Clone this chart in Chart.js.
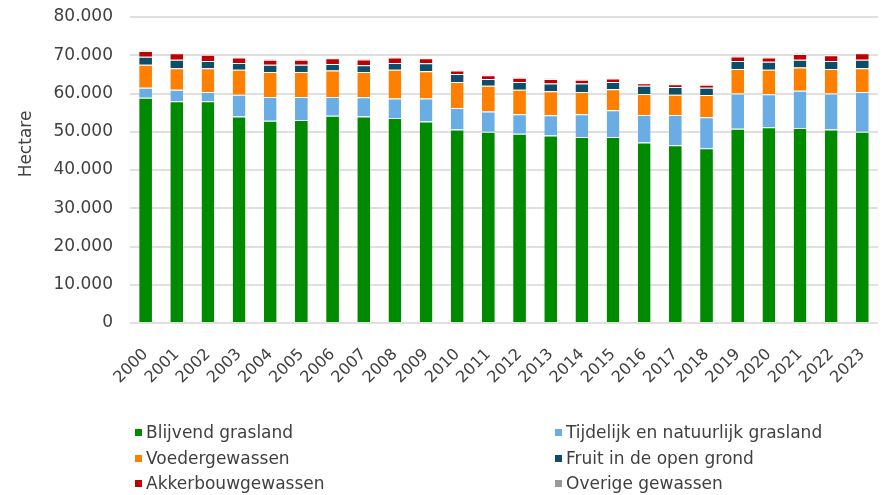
<!DOCTYPE html>
<html>
<head>
<meta charset="utf-8">
<script src="https://cdn.jsdelivr.net/npm/chart.js@4/dist/chart.umd.min.js"></script>
<style>
  html, body { margin: 0; padding: 0; background: #fff; overflow: hidden; width: 882px; height: 495px; }
  #wrap { position: absolute; left: 0; top: 0; width: 890px; height: 390px; }
  #legend { position: absolute; left: 0; top: 0; width: 882px; height: 495px; pointer-events: none;
            font-family: 'DejaVu Sans', Verdana, sans-serif; font-size: 17px; color: #404040; }
  .li { position: absolute; white-space: nowrap; line-height: 20px; }
  .sw { position: absolute; width: 7px; height: 7px; }
</style>
</head>
<body>
<div id="wrap"><canvas id="c" width="890" height="390"></canvas></div>
<div id="legend"></div>
<script>
const years = ['2000','2001','2002','2003','2004','2005','2006','2007','2008','2009','2010','2011',
               '2012','2013','2014','2015','2016','2017','2018','2019','2020','2021','2022','2023'];
const yTicks = [0, 10000, 20000, 30000, 40000, 50000, 60000, 70000, 80000];
const yTitle = 'Hectare';

const seriesNames = ['Blijvend grasland', 'Tijdelijk en natuurlijk grasland', 'Voedergewassen',
                     'Fruit in de open grond', 'Akkerbouwgewassen', 'Overige gewassen'];

const blijvendGrasland = [58900,58000,58000,54000,52900,53100,54200,54000,53600,52700,50600,50000,
                          49500,49000,48600,48600,47200,46500,45700,50800,51200,51000,50600,50000];
const tijdelijkGrasland = [2600,3000,2400,5700,6200,6000,4900,5000,5100,6000,5600,5300,
                           5100,5300,6000,7000,7200,7900,8100,9200,8600,9700,9400,10400];
const voedergewassen = [6000,5600,6200,6500,6500,6500,6900,6600,7500,7100,6800,6700,
                        6400,6300,5800,5500,5500,5300,5800,6400,6400,6100,6400,6200];
const fruitOpenGrond = [2100,2200,1900,1800,1900,1900,1700,1800,1800,2100,2100,1800,
                        2000,2000,2200,1900,2100,2000,1900,2100,2100,2000,2100,2200];
const akkerbouwgewassen = [1500,1700,1600,1400,1300,1300,1500,1500,1400,1300,900,1000,
                           1100,1200,1000,900,700,700,800,1200,1100,1500,1500,1700];
const overigeGewassen = [200,200,200,200,200,200,200,200,200,200,200,200,
                         150,150,150,150,150,150,150,200,200,200,200,200];

const seriesValues = [blijvendGrasland, tijdelijkGrasland, voedergewassen, fruitOpenGrond, akkerbouwgewassen, overigeGewassen];
const seriesColors = ['#008a00', '#6aade4', '#ff7f00', '#0c4d6a', '#c00000', '#9a9a9a'];

function fmt(v) { return String(v).replace(/\B(?=(\d{3})+(?!\d))/g, '.'); }

const FONT = "'DejaVu Sans', Verdana, sans-serif";
const TXT = '#404040';

const yTitlePlugin = {
  id: 'yTitle',
  afterDraw(chart) {
    const ctx = chart.ctx;
    ctx.save();
    ctx.translate(27, 144);
    ctx.rotate(-Math.PI / 2);
    ctx.font = '17px ' + FONT;
    ctx.fillStyle = TXT;
    ctx.textAlign = 'center';
    ctx.textBaseline = 'middle';
    ctx.fillText(yTitle, 0, 0);
    ctx.restore();
  }
};

const chart = new Chart(document.getElementById('c'), {
  type: 'bar',
  data: {
    labels: years,
    datasets: seriesNames.map((n, i) => ({
      label: n,
      data: seriesValues[i],
      backgroundColor: seriesColors[i],
      borderColor: '#ffffff',
      borderWidth: {top: 1, right: 0, bottom: 0, left: 0},
      borderSkipped: false,
      barPercentage: 0.41,
      categoryPercentage: 1.0
    }))
  },
  options: {
    responsive: false,
    animation: false,
    devicePixelRatio: 1,
    layout: { padding: { top: 17, right: 4, left: 0, bottom: 0 } },
    plugins: { legend: { display: false }, tooltip: { enabled: false } },
    scales: {
      x: {
        stacked: true,
        grid: { display: false },
        border: { display: false },
        ticks: {
          autoSkip: false, minRotation: 45, maxRotation: 45, padding: 14,
          color: TXT, font: { family: FONT, size: 16 }
        },
        afterFit(scale) { scale.height = 67; }
      },
      y: {
        stacked: true,
        min: 0, max: 80000,
        afterBuildTicks(scale) { scale.ticks = yTicks.map(v => ({ value: v })); },
        grid: { color: '#e0e0e0', lineWidth: 2, drawTicks: true, tickLength: 17, tickColor: 'rgba(0,0,0,0)' },
        border: { display: false },
        ticks: {
          padding: 0, color: TXT, font: { family: FONT, size: 17 },
          callback: v => fmt(v)
        },
        afterFit(scale) { scale.width = 130; }
      }
    }
  },
  plugins: [yTitlePlugin]
});

// Legend (two columns) built from the chart's datasets
const legendPos = [[135, 432], [555, 432], [135, 458], [555, 458], [135, 483], [555, 483]];
const lg = document.getElementById('legend');
chart.data.datasets.forEach((ds, i) => {
  const [x, y] = legendPos[i];
  const sw = document.createElement('div');
  sw.className = 'sw';
  sw.style.left = x + 'px';
  sw.style.top = (y - 3) + 'px';
  sw.style.background = ds.backgroundColor;
  lg.appendChild(sw);
  const t = document.createElement('div');
  t.className = 'li';
  t.style.left = (x + 11) + 'px';
  t.style.top = (y - 10) + 'px';
  t.textContent = ds.label;
  lg.appendChild(t);
});
</script>
</body>
</html>
